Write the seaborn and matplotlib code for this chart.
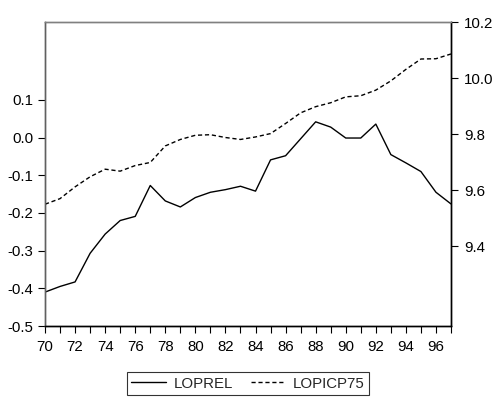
import matplotlib
matplotlib.use("Agg")
import matplotlib.pyplot as plt
import seaborn as sns
import pandas as pd
from matplotlib.lines import Line2D

years = list(range(1970, 1998))
loprel = [-0.410, -0.395, -0.383, -0.307, -0.256, -0.220, -0.209, -0.127,
          -0.168, -0.184, -0.159, -0.145, -0.138, -0.129, -0.142, -0.059,
          -0.048, -0.003, 0.042, 0.028, -0.001, -0.001, 0.036, -0.045,
          -0.067, -0.090, -0.145, -0.176]
lopicp75 = [9.550, 9.570, 9.612, 9.648, 9.675, 9.668, 9.688, 9.699,
            9.758, 9.781, 9.796, 9.798, 9.788, 9.781, 9.790, 9.802,
            9.838, 9.876, 9.898, 9.912, 9.933, 9.937, 9.957, 9.990,
            10.031, 10.068, 10.069, 10.086]
left_ticks = [-0.5, -0.4, -0.3, -0.2, -0.1, 0.0, 0.1]
right_ticks = [9.4, 9.6, 9.8, 10.0, 10.2]

df = pd.DataFrame({"year": years, "LOPREL": loprel, "LOPICP75": lopicp75})

sns.set_style("white")
plt.rcParams["font.family"] = ["Liberation Sans", "DejaVu Sans"]
FS = 10.8
plt.rcParams["font.size"] = FS

fig = plt.figure(figsize=(4.96, 3.98), dpi=100)
ax = fig.add_axes([45 / 496, 1 - 326 / 398, 406 / 496, 304 / 398])
ax2 = ax.twinx()

dash = (0, (3, 2))
sns.lineplot(data=df, x="year", y="LOPREL", ax=ax, color="black", lw=1.0)
sns.lineplot(data=df, x="year", y="LOPICP75", ax=ax2, color="black", lw=1.0,
             linestyle=dash)

ax.set_xlim(1970, 1997)
ax.set_ylim(-0.5, 0.307)
ax2.set_ylim(9.1157, 10.2)

ax.set_xticks(range(1970, 1998))
ax.set_xticklabels([(str(y % 100) if (y % 2 == 0 and y < 1997) else "")
                    for y in range(1970, 1998)])
ax.set_yticks(left_ticks)
ax.set_yticklabels([f"{v:.1f}" for v in left_ticks])
ax2.set_yticks(right_ticks)
ax2.set_yticklabels([f"{v:.1f}" for v in right_ticks])

for a in (ax, ax2):
    a.set_xlabel("")
    a.set_ylabel("")
ax.tick_params(axis="x", direction="out", length=5, width=0.8, color="black",
               bottom=True, pad=5, labelsize=FS, labelcolor="black")
ax.tick_params(axis="y", direction="out", length=5, width=0.8, color="black",
               left=True, pad=3.5, labelsize=FS, labelcolor="black")
ax2.tick_params(axis="y", direction="out", length=5, width=0.8, color="black",
                right=True, pad=4.5, labelsize=FS, labelcolor="black")

for a in (ax, ax2):
    a.spines["top"].set_color("#808080")
    a.spines["left"].set_color("#606060")
    a.spines["bottom"].set_color("black")
    a.spines["right"].set_color("black")
    for s in a.spines.values():
        s.set_linewidth(1.0)
    if a.get_legend() is not None:
        a.get_legend().remove()

handles = [Line2D([], [], color="black", lw=1.0),
           Line2D([], [], color="black", lw=1.0, linestyle=dash)]
leg = fig.legend(handles, ["LOPREL", "LOPICP75"], loc="center",
                 bbox_to_anchor=(248 / 496, 1 - 383.5 / 398), ncol=2,
                 frameon=True, fancybox=False, handlelength=2.3,
                 columnspacing=1.2, handletextpad=0.5, borderpad=0.3,
                 borderaxespad=0.0, fontsize=FS)
leg.get_frame().set_edgecolor("black")
leg.get_frame().set_linewidth(0.8)

fig.savefig("out.png", dpi=100)
